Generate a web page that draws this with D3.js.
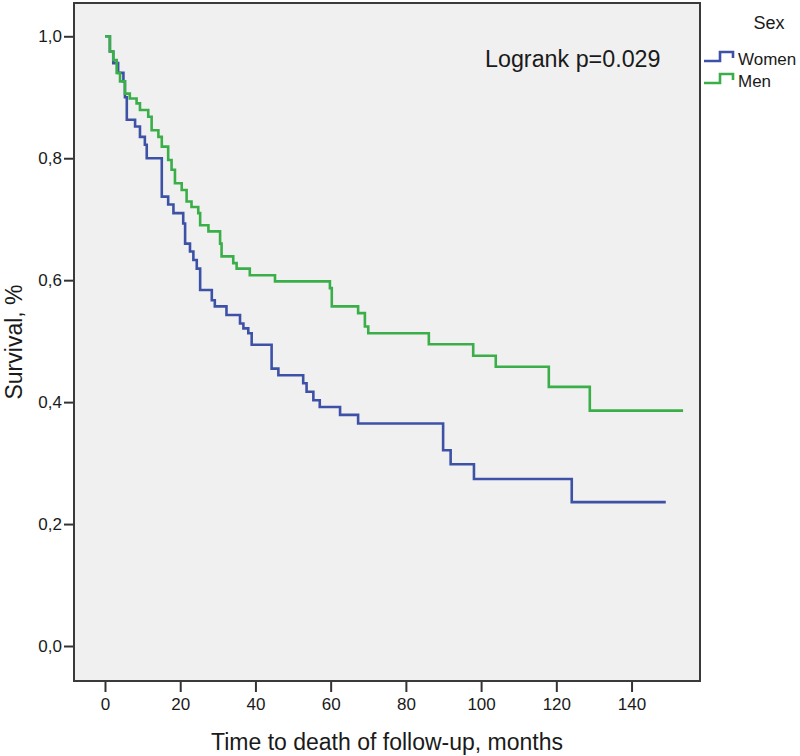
<!DOCTYPE html>
<html>
<head>
<meta charset="utf-8">
<script src="https://cdn.jsdelivr.net/npm/d3@7"></script>
<style>
  html, body { margin: 0; padding: 0; background: #ffffff; }
  svg { display: block; font-family: "Liberation Sans", Arial, sans-serif; }
</style>
</head>
<body>
<svg id="chart" width="800" height="756"></svg>
<script>
// ---- data ----
const womenTime = [0, 1.3, 2.2, 3.5, 4.9, 5.3, 5.8, 8.0, 9.3, 10.6, 11.1, 15.1, 16.8, 18.2, 20.8, 21.3, 22.6, 23.5, 24.4, 25.3, 28.4, 29.2, 32.3, 35.9, 36.8, 38.1, 39.0, 44.3, 46.1, 52.7, 53.6, 55.4, 57.1, 62.5, 67.3, 89.9, 91.9, 98.1, 124.1];
const womenSurv = [1.0, 0.975, 0.956, 0.94, 0.926, 0.90, 0.863, 0.852, 0.835, 0.822, 0.80, 0.737, 0.724, 0.71, 0.693, 0.66, 0.647, 0.633, 0.619, 0.584, 0.567, 0.557, 0.543, 0.529, 0.521, 0.513, 0.494, 0.455, 0.444, 0.431, 0.417, 0.403, 0.392, 0.379, 0.365, 0.321, 0.298, 0.274, 0.236];
const womenEnd = 149.1;

const menTime = [0, 1.3, 2.2, 3.1, 4.0, 5.3, 6.6, 8.4, 9.3, 11.5, 12.4, 14.2, 15.1, 16.8, 17.7, 18.6, 20.4, 21.7, 23.0, 24.8, 25.3, 27.5, 30.6, 31.0, 34.1, 35.0, 38.5, 45.2, 59.8, 60.3, 67.3, 69.1, 70.0, 86.1, 97.9, 103.9, 118.0, 128.9];
const menSurv = [1.0, 0.975, 0.961, 0.94, 0.926, 0.906, 0.898, 0.89, 0.879, 0.868, 0.846, 0.835, 0.819, 0.797, 0.781, 0.759, 0.748, 0.729, 0.72, 0.71, 0.69, 0.68, 0.66, 0.639, 0.628, 0.619, 0.608, 0.598, 0.587, 0.557, 0.546, 0.524, 0.513, 0.495, 0.476, 0.458, 0.425, 0.386];
const menEnd = 153.7;

const xTicks = [0, 20, 40, 60, 80, 100, 120, 140];
const yTicks = [0.0, 0.2, 0.4, 0.6, 0.8, 1.0];
const seriesNames = ["Women", "Men"];
const seriesColors = ["#3d52a6", "#3aae48"];

const svg = d3.select("#chart");

const pLeft = 74, pRight = 700, pTop = 3, pBottom = 681;
const x = d3.scaleLinear().domain([-8.24, 158.2]).range([pLeft, pRight]);
const y = d3.scaleLinear().domain([-0.0574, 1.0546]).range([pBottom, pTop]);

// plot background
svg.append("rect")
  .attr("x", pLeft).attr("y", pTop)
  .attr("width", pRight - pLeft).attr("height", pBottom - pTop)
  .attr("fill", "#f0f0f0");

// axes
const fmtY = d => d3.format(".1f")(d).replace(".", ",");
const xAxis = svg.append("g")
  .attr("transform", `translate(0,${pBottom})`)
  .call(d3.axisBottom(x).tickValues(xTicks).tickSize(11).tickPadding(6).tickFormat(d3.format("d")));
const yAxis = svg.append("g")
  .attr("transform", `translate(${pLeft},0)`)
  .call(d3.axisLeft(y).tickValues(yTicks).tickSize(10).tickPadding(2).tickFormat(fmtY));
[xAxis, yAxis].forEach(g => {
  g.select(".domain").remove();
  g.selectAll(".tick line").attr("stroke", "#333").attr("stroke-width", 2);
  g.selectAll(".tick text").attr("fill", "#1a1a1a").style("font-size", "17px")
    .style("font-family", "'Liberation Sans', Arial, sans-serif");
});

// frame
svg.append("rect")
  .attr("x", pLeft).attr("y", pTop)
  .attr("width", pRight - pLeft).attr("height", pBottom - pTop)
  .attr("fill", "none").attr("stroke", "#3a3a3a").attr("stroke-width", 2);

// curves
const line = d3.line().x(d => x(d[0])).y(d => y(d[1])).curve(d3.curveStepAfter);
function pts(times, surv, end) {
  const p = times.map((t, i) => [t, surv[i]]);
  p.push([end, surv[surv.length - 1]]);
  return p;
}
const series = [pts(womenTime, womenSurv, womenEnd), pts(menTime, menSurv, menEnd)];
series.forEach((p, i) => {
  svg.append("path")
    .datum(p)
    .attr("d", line)
    .attr("fill", "none")
    .attr("stroke", seriesColors[i])
    .attr("stroke-width", 2.6)
    .attr("stroke-linejoin", "miter");
});

// annotation
svg.append("text")
  .attr("x", 485).attr("y", 67)
  .attr("fill", "#1a1a1a")
  .style("font-size", "23.3px")
  .text("Logrank p=0.029");

// axis titles
svg.append("text")
  .attr("x", (pLeft + pRight) / 2).attr("y", 750)
  .attr("text-anchor", "middle")
  .attr("fill", "#1a1a1a")
  .style("font-size", "23px")
  .text("Time to death of follow-up, months");
svg.append("text")
  .attr("transform", `translate(22,${(pTop + pBottom) / 2}) rotate(-90)`)
  .attr("text-anchor", "middle")
  .attr("fill", "#1a1a1a")
  .style("font-size", "23px")
  .text("Survival, %");

// legend
svg.append("text")
  .attr("x", 769).attr("y", 29)
  .attr("text-anchor", "middle")
  .attr("fill", "#1a1a1a")
  .style("font-size", "18px")
  .text("Sex");
const legY = [61, 83];
seriesNames.forEach((name, i) => {
  const yy = legY[i];
  svg.append("path")
    .attr("d", `M704,${yy} H720 V${yy - 9} H733 V${yy - 3}`)
    .attr("fill", "none")
    .attr("stroke", seriesColors[i])
    .attr("stroke-width", 2.6);
  svg.append("text")
    .attr("x", 738).attr("y", yy + 4)
    .attr("fill", "#1a1a1a")
    .style("font-size", "17px")
    .text(name);
});
</script>
</body>
</html>
